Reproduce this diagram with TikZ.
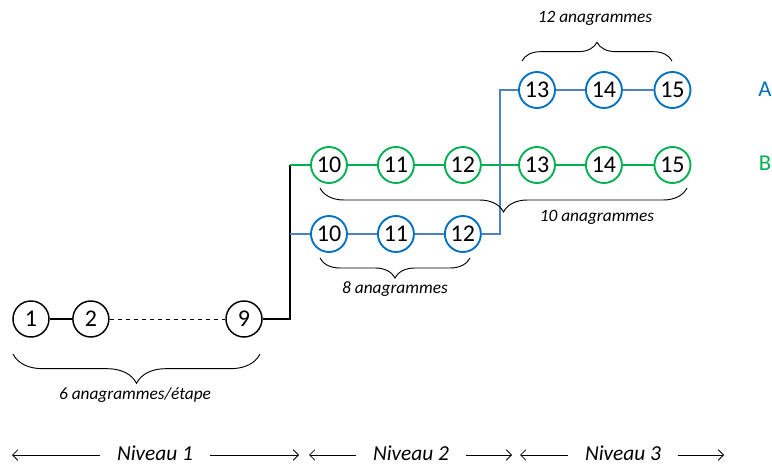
\documentclass[tikz,border=0pt]{standalone}
\usepackage{fontspec}
\setmainfont{Carlito}
\usetikzlibrary{arrows.meta, positioning, decorations.pathreplacing}
\definecolor{ringblue}{RGB}{0,112,192}
\definecolor{wireblue}{RGB}{79,129,189}
\definecolor{ringgreen}{RGB}{0,176,80}
\tikzstyle{anagram} = [draw, circle, minimum size=27pt, inner sep=0pt, line width=1.4pt, font=\fontsize{18}{18}\selectfont]
\tikzstyle{plain} = [anagram, draw=black, line width=1.1pt]
\tikzstyle{rowa} = [anagram, draw=ringblue]
\tikzstyle{rowb} = [anagram, draw=ringgreen]
\tikzstyle{wire} = [line width=1.1pt]
\tikzstyle{brace} = [decorate, decoration={brace, amplitude=12pt}, line width=0.7pt]
\tikzstyle{note} = [font=\itshape\fontsize{13}{13}\selectfont]
\tikzstyle{level} = [font=\itshape\fontsize{16}{16}\selectfont]
\tikzstyle{span} = [-{Straight Barb[length=4pt, width=8pt]}, line width=0.6pt]

\begin{document}
\begin{tikzpicture}[x=0.75pt, y=-0.75pt, node distance=21.8pt]
    \useasboundingbox (0,0) rectangle (772,467);

    % Niveau 1.
    \node (n1) [plain] at (31,319) {1};
    \node (n2) [plain, right=16.8pt of n1] {2};
    \node (n9) [plain] at (244,319) {9};

    % Niveau 2.
    \node (g10) [rowb] at (329,165) {10};
    \node (g11) [rowb, right=of g10] {11};
    \node (g12) [rowb, right=of g11] {12};
    \node (b10) [rowa] at (329,234) {10};
    \node (b11) [rowa, right=of b10] {11};
    \node (b12) [rowa, right=of b11] {12};

    % Niveau 3.
    \node (g13) [rowb] at (537,165) {13};
    \node (g14) [rowb, right=of g13] {14};
    \node (g15) [rowb, right=23pt of g14] {15};
    \node (a13) [rowa] at (537,90) {13};
    \node (a14) [rowa, right=of a13] {14};
    \node (a15) [rowa, right=23pt of a14] {15};
    \node (A) [text=ringblue, font=\fontsize{17}{17}\selectfont] at (765,89) {A};
    \node (B) [text=ringgreen, font=\fontsize{17}{17}\selectfont] at (765,163) {B};

    \coordinate (fork b) at (290,165);
    \coordinate (fork a) at (290,234);
    \coordinate (jump) at (500,90);

    % Lines.
    \draw [wire] (n1) -- (n2);
    \draw [line width=0.6pt, dashed] (n2) -- (n9);
    \draw [wire] (n9) -| (fork b);
    \draw [wire, line width=1.5pt, ringgreen] (fork b) -- (g10) -- (g11) -- (g12) -- (g13) -- (g14) -- (g15);
    \draw [wire, line width=1.5pt, wireblue] (fork a) -- (b10) -- (b11) -- (b12);
    \draw [wire, line width=1.5pt, wireblue] (b12) -| (jump) -- (a13) -- (a14) -- (a15);

    % Braces.
    \draw [brace, decoration={amplitude=14pt}] (522,61) -- (672,61);
    \node (c12) [note] at (595,18) {12 anagrammes};
    \draw [brace, decoration={amplitude=18pt}] (687,188) -- (320,188);
    \node (c10) [note] at (597,217) {10 anagrammes};
    \draw [brace, decoration={amplitude=15pt}] (470,258) -- (320,258);
    \node (c8) [note] at (395,289) {8 anagrammes};
    \draw [brace, decoration={amplitude=22pt}] (260,354) -- (13,354);
    \node (c6) [note] at (135,395) {6 anagrammes/étape};

    % Levels.
    \node (lvl1) [level] at (155,453) {Niveau 1};
    \node (lvl2) [level] at (411,453) {Niveau 2};
    \node (lvl3) [level] at (623,453) {Niveau 3};
    \coordinate (l1 w) at (12,455);
    \coordinate (l1 e) at (299,455);
    \coordinate (l2 w) at (309,455);
    \coordinate (l2 e) at (512,455);
    \coordinate (l3 w) at (520,455);
    \coordinate (l3 e) at (724,455);
    \draw [span] ([xshift=-9pt]lvl1.west |- l1 w) -- (l1 w);
    \draw [span] ([xshift=9pt]lvl1.east |- l1 e) -- (l1 e);
    \draw [span] ([xshift=-9pt]lvl2.west |- l2 w) -- (l2 w);
    \draw [span] ([xshift=9pt]lvl2.east |- l2 e) -- (l2 e);
    \draw [span] ([xshift=-9pt]lvl3.west |- l3 w) -- (l3 w);
    \draw [span] ([xshift=9pt]lvl3.east |- l3 e) -- (l3 e);
\end{tikzpicture}
\end{document}
